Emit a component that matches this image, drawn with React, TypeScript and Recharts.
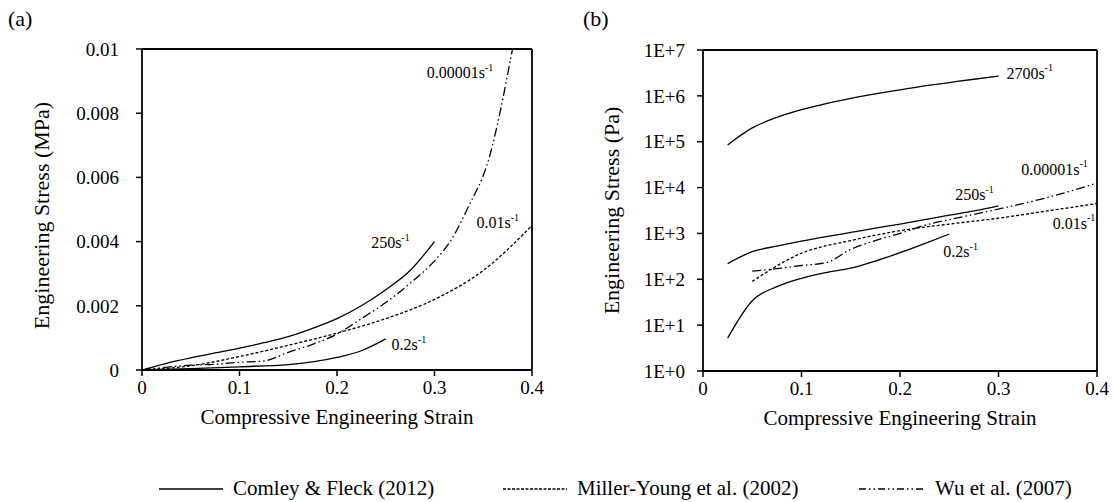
import React from 'react';
import { LineChart, Line, XAxis, YAxis, ReferenceLine, ReferenceDot } from 'recharts';

const FONT = '"Liberation Serif", "Times New Roman", serif';

// ---------- Panel (a): linear, stress in MPa ----------
const xTicks = [0, 0.1, 0.2, 0.3, 0.4];
const xTickLabels = ['0', '0.1', '0.2', '0.3', '0.4'];
const yTicksA = [0, 0.002, 0.004, 0.006, 0.008, 0.01];
const yTickLabelsA = ['0', '0.002', '0.004', '0.006', '0.008', '0.01'];

const comley250StrainA = [0, 0.025, 0.05, 0.075, 0.1, 0.125, 0.15, 0.175, 0.2, 0.225, 0.25, 0.275, 0.3];
const comley250StressA = [0, 0.00021, 0.00038, 0.00053, 0.00068, 0.00085, 0.00104, 0.0013, 0.0016, 0.002, 0.0025, 0.0031, 0.004];

const comley02StrainA = [0, 0.05, 0.1, 0.15, 0.175, 0.2, 0.225, 0.25];
const comley02StressA = [0, 0.00004, 0.0001, 0.00017, 0.00025, 0.00039, 0.0006, 0.00097];

const millerStrainA = [0, 0.05, 0.1, 0.15, 0.2, 0.25, 0.3, 0.35, 0.4];
const millerStressA = [0, 0.00013, 0.00042, 0.00077, 0.00115, 0.0016, 0.0022, 0.0031, 0.0045];

const wuStrainA = [0, 0.05, 0.075, 0.1, 0.125, 0.15, 0.175, 0.2, 0.225, 0.25, 0.275, 0.3, 0.316, 0.335, 0.355, 0.38];
const wuStressA = [0, 0.00015, 0.00018, 0.00024, 0.00028, 0.00055, 0.0008, 0.00112, 0.0016, 0.0021, 0.0027, 0.0034, 0.004, 0.0051, 0.0065, 0.01];

const rateLabelsA = [
  { x: 0.235, y: 0.00396, rate: '250' },
  { x: 0.256, y: 0.00078, rate: '0.2' },
  { x: 0.343, y: 0.00459, rate: '0.01' },
  { x: 0.292, y: 0.00926, rate: '0.00001' },
];

// ---------- Panel (b): log, stress in Pa ----------
const yTicksB = [1, 10, 100, 1000, 10000, 100000, 1000000, 10000000];
const yTickLabelsB = ['1E+0', '1E+1', '1E+2', '1E+3', '1E+4', '1E+5', '1E+6', '1E+7'];

const comley2700StrainB = [0.025, 0.05, 0.075, 0.1, 0.125, 0.15, 0.175, 0.2, 0.225, 0.25, 0.275, 0.3];
const comley2700StressB = [85000, 200000, 340000, 500000, 680000, 880000, 1100000, 1350000, 1650000, 1950000, 2300000, 2700000];

const comley250StrainB = [0.025, 0.05, 0.075, 0.1, 0.125, 0.15, 0.175, 0.2, 0.225, 0.25, 0.275, 0.3];
const comley250StressB = [220, 400, 530, 680, 850, 1050, 1300, 1600, 2000, 2500, 3100, 4000];

const comley02StrainB = [0.025, 0.05, 0.075, 0.1, 0.125, 0.15, 0.175, 0.2, 0.225, 0.25];
const comley02StressB = [5.2, 34, 69, 105, 140, 175, 250, 380, 600, 970];

const millerStrainB = [0.05, 0.1, 0.15, 0.2, 0.25, 0.3, 0.35, 0.4];
const millerStressB = [90, 370, 700, 1150, 1600, 2150, 3100, 4500];

const wuStrainB = [0.05, 0.075, 0.1, 0.125, 0.15, 0.175, 0.2, 0.225, 0.25, 0.275, 0.3, 0.35, 0.4];
const wuStressB = [150, 170, 200, 230, 450, 700, 1000, 1500, 2000, 2600, 3400, 6100, 12500];

const rateLabelsB = [
  { x: 0.308, y: 3100000, rate: '2700' },
  { x: 0.323, y: 25000, rate: '0.00001' },
  { x: 0.256, y: 6900, rate: '250' },
  { x: 0.355, y: 1660, rate: '0.01' },
  { x: 0.244, y: 400, rate: '0.2' },
];

// ---------- Legend ----------
const legendNames = ['Comley & Fleck (2012)', 'Miller-Young et al. (2002)', 'Wu et al. (2007)'];

const SOLID = undefined;
const DASHED = '3 2';
const DASHDOT = '9 3 1.5 3 1.5 3';

const zip = (xs: number[], ys: number[]) => xs.map((x, i) => ({ x, y: ys[i] }));

const RateLabel = (props: any) => {
  const { cx, cy, rate } = props;
  if (cx == null || cy == null) return <g />;
  return (
    <text x={cx} y={cy} fontFamily={FONT} fontSize={16} fill="#000" dominantBaseline="central">
      {rate}s
      <tspan fontSize={10} dy={-6}>-1</tspan>
    </text>
  );
};

const tickStyle = { fontFamily: FONT, fontSize: 19, fill: '#000' };

const YTitle = (text: string, xOff: number, yOff: number) => (props: any) => {
  const vb = props.viewBox || { x: 0, y: 50, width: 140, height: 321 };
  const x = vb.x + xOff;
  const y = vb.y + vb.height / 2 + yOff;
  return (
    <text x={x} y={y} transform={`rotate(-90, ${x}, ${y})`} textAnchor="middle" dominantBaseline="central"
      fontFamily={FONT} fontSize={22} fill="#000">
      {text}
    </text>
  );
};

const lineCommon = {
  type: 'monotone' as const,
  dataKey: 'y',
  stroke: '#000',
  strokeWidth: 1.3,
  dot: false,
  activeDot: false,
  isAnimationActive: false,
  legendType: 'none' as const,
};

const xTitleStyle = { fontFamily: FONT, fontSize: 21, fill: '#000' };

export default function App() {
  return (
    <div style={{ position: 'absolute', left: 0, top: 0, width: 1116, height: 502, background: '#fff', overflow: 'hidden' }}>
      <div style={{ position: 'absolute', left: 0, top: 0 }}>
        <LineChart width={560} height={440} margin={{ top: 49, right: 28, bottom: 10, left: 0 }}>
          <XAxis
            dataKey="x" type="number" domain={[0, 0.4]} ticks={xTicks}
            tickFormatter={(v: number) => xTickLabels[xTicks.indexOf(v)] ?? String(v)}
            height={60} tickSize={6} tickMargin={5} tick={tickStyle}
            axisLine={{ stroke: '#000', strokeWidth: 1.8 }} tickLine={{ stroke: '#000', strokeWidth: 1.5 }}
            label={{ value: 'Compressive Engineering Strain', position: 'insideBottom', offset: 6, style: xTitleStyle }}
          />
          <YAxis
            dataKey="y" type="number" domain={[0, 0.01]} ticks={yTicksA} allowDataOverflow
            tickFormatter={(v: number) => yTickLabelsA[yTicksA.indexOf(v)] ?? String(v)}
            width={142} tickSize={6} tickMargin={17} tick={tickStyle}
            axisLine={{ stroke: '#000', strokeWidth: 1.8 }} tickLine={{ stroke: '#000', strokeWidth: 1.5 }}
            label={{ content: YTitle('Engineering Stress (MPa)', 41, 6) }}
          />
          <ReferenceLine y={0.01} stroke="#000" strokeWidth={1.8} ifOverflow="visible" />
          <ReferenceLine x={0.4} stroke="#000" strokeWidth={1.8} ifOverflow="visible" />
          <Line {...lineCommon} data={zip(comley250StrainA, comley250StressA)} name="250a" />
          <Line {...lineCommon} data={zip(comley02StrainA, comley02StressA)} name="0.2a" />
          <Line {...lineCommon} data={zip(millerStrainA, millerStressA)} name="millerA" strokeDasharray={DASHED} />
          <Line {...lineCommon} data={zip(wuStrainA, wuStressA)} name="wuA" strokeDasharray={DASHDOT} />
          {rateLabelsA.map((l) => (
            <ReferenceDot key={'a' + l.rate} x={l.x} y={l.y} r={0} ifOverflow="visible"
              shape={(p: any) => <RateLabel cx={p.cx} cy={p.cy} rate={l.rate} />} />
          ))}
        </LineChart>
      </div>
      <div style={{ position: 'absolute', left: 560, top: 0 }}>
        <LineChart width={556} height={440} margin={{ top: 50, right: 19, bottom: 9, left: 0 }}>
          <XAxis
            dataKey="x" type="number" domain={[0, 0.4]} ticks={xTicks}
            tickFormatter={(v: number) => xTickLabels[xTicks.indexOf(v)] ?? String(v)}
            height={60} tickSize={6} tickMargin={5} tick={tickStyle}
            axisLine={{ stroke: '#000', strokeWidth: 1.8 }} tickLine={{ stroke: '#000', strokeWidth: 1.5 }}
            label={{ value: 'Compressive Engineering Strain', position: 'insideBottom', offset: 6, style: xTitleStyle }}
          />
          <YAxis
            dataKey="y" type="number" scale="log" domain={[1, 10000000]} ticks={yTicksB} allowDataOverflow
            tickFormatter={(v: number) => yTickLabelsB[yTicksB.indexOf(v)] ?? String(v)}
            width={143} tickSize={6} tickMargin={12} tick={tickStyle}
            axisLine={{ stroke: '#000', strokeWidth: 1.8 }} tickLine={{ stroke: '#000', strokeWidth: 1.5 }}
            label={{ content: YTitle('Engineering Stress (Pa)', 51, 0) }}
          />
          <ReferenceLine y={10000000} stroke="#000" strokeWidth={1.8} ifOverflow="visible" />
          <ReferenceLine x={0.4} stroke="#000" strokeWidth={1.8} ifOverflow="visible" />
          <Line {...lineCommon} data={zip(comley2700StrainB, comley2700StressB)} name="2700b" />
          <Line {...lineCommon} data={zip(comley250StrainB, comley250StressB)} name="250b" />
          <Line {...lineCommon} data={zip(comley02StrainB, comley02StressB)} name="0.2b" />
          <Line {...lineCommon} data={zip(millerStrainB, millerStressB)} name="millerB" strokeDasharray={DASHED} />
          <Line {...lineCommon} data={zip(wuStrainB, wuStressB)} name="wuB" strokeDasharray={DASHDOT} />
          {rateLabelsB.map((l) => (
            <ReferenceDot key={'b' + l.rate} x={l.x} y={l.y} r={0} ifOverflow="visible"
              shape={(p: any) => <RateLabel cx={p.cx} cy={p.cy} rate={l.rate} />} />
          ))}
        </LineChart>
      </div>
      <svg width={1116} height={502} style={{ position: 'absolute', left: 0, top: 0, pointerEvents: 'none' }}>
        <text x={8} y={18} dominantBaseline="central" fontFamily={FONT} fontSize={22} fill="#000">(a)</text>
        <text x={583} y={18} dominantBaseline="central" fontFamily={FONT} fontSize={22} fill="#000">(b)</text>
        {legendNames.map((name, i) => {
          const sx = [159, 503, 859][i];
          const tx = [233, 577, 935][i];
          const dash = [SOLID, '3 1.5', '7 3 1.5 3 1.5 3'][i];
          return (
            <g key={name}>
              <line x1={sx} x2={sx + 64} y1={489} y2={489} stroke="#000" strokeWidth={1.3} strokeDasharray={dash} />
              <text x={tx} y={488} dominantBaseline="central" fontFamily={FONT} fontSize={21} fill="#000">{name}</text>
            </g>
          );
        })}
      </svg>
    </div>
  );
}
